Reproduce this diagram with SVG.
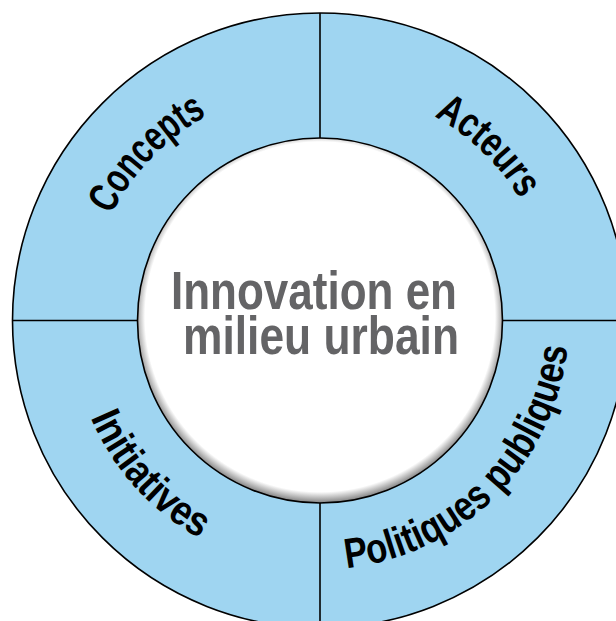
<svg xmlns="http://www.w3.org/2000/svg" width="616" height="621" viewBox="0 0 616 621">
  <style>
    .ring { fill: #9FD5F1; stroke: #000; stroke-width: 1.6; }
    .div { stroke: #000; stroke-width: 1.6; fill: none; }
    .hub { fill: url(#innerShadow); stroke: #000; stroke-width: 1.6; }
    .lbl { font-family: "Liberation Sans", Arial, sans-serif; font-weight: bold; font-size: 42px; fill: #000; }
    .ctr { font-family: "Liberation Sans", Arial, sans-serif; font-weight: bold; font-size: 54px; fill: #646466; }
  </style>
  <defs>
    <radialGradient id="innerShadow" cx="0.5" cy="0.49" r="0.51">
      <stop offset="0" stop-color="#ffffff"/>
      <stop offset="0.94" stop-color="#ffffff"/>
      <stop offset="1" stop-color="#808080"/>
    </radialGradient>
    <path id="arcConcepts" d="M143.40,474.02 A234,234 0 0 1 467.26,138.65"/>
    <path id="arcActeurs" d="M166.48,143.90 A234,234 0 0 1 501.85,467.76"/>
    <path id="arcInitiatives" d="M137.89,150.68 A249,249 0 0 0 469.85,519.36"/>
    <path id="arcPolitiques" d="M159.95,511.24 A249,249 0 0 0 510.74,160.45"/>
  </defs>

  <g id="ring">
    <circle class="ring" cx="320" cy="320.5" r="307.5"/>
  </g>

  <g id="connectors">
    <line class="div" x1="320" y1="13" x2="320" y2="138"/>
    <line class="div" x1="320" y1="503" x2="320" y2="628"/>
    <line class="div" x1="12.5" y1="320.5" x2="137.5" y2="320.5"/>
    <line class="div" x1="502.5" y1="320.5" x2="627.5" y2="320.5"/>
  </g>

  <g id="node-concepts">
    <text class="lbl"><textPath href="#arcConcepts" startOffset="50%" text-anchor="middle" textLength="140" lengthAdjust="spacingAndGlyphs">Concepts</textPath></text>
  </g>
  <g id="node-acteurs">
    <text class="lbl"><textPath href="#arcActeurs" startOffset="50%" text-anchor="middle" textLength="121" lengthAdjust="spacingAndGlyphs">Acteurs</textPath></text>
  </g>
  <g id="node-initiatives">
    <text class="lbl"><textPath href="#arcInitiatives" startOffset="50%" text-anchor="middle" textLength="166" lengthAdjust="spacingAndGlyphs">Initiatives</textPath></text>
  </g>
  <g id="node-politiques">
    <text class="lbl"><textPath href="#arcPolitiques" startOffset="50%" text-anchor="middle" textLength="338" lengthAdjust="spacingAndGlyphs">Politiques publiques</textPath></text>
  </g>

  <g id="node-center">
    <circle class="hub" cx="320" cy="320.5" r="182.5"/>
    <text class="ctr" x="314" y="309" text-anchor="middle" textLength="286" lengthAdjust="spacingAndGlyphs">Innovation en</text>
    <text class="ctr" x="321" y="354" text-anchor="middle" textLength="276" lengthAdjust="spacingAndGlyphs">milieu urbain</text>
  </g>
</svg>
